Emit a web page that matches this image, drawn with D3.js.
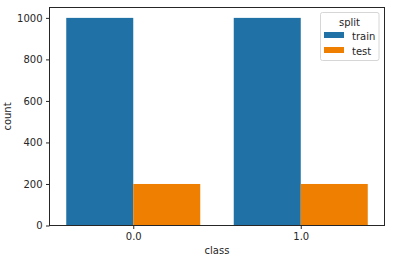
<!DOCTYPE html>
<html><head><meta charset="utf-8">
<script src="https://cdn.jsdelivr.net/npm/d3@7"></script>
<style>body{margin:0;background:#fff}svg{display:block}text{font-family:"DejaVu Sans",sans-serif;fill:#262626}</style>
</head><body><svg id="c" width="393" height="261"></svg>
<script>
const classes = ["0.0", "1.0"];
const splits = ["train", "test"];
const trainValues = [1000, 1000];
const testValues = [200, 200];
const yTicks = [0, 200, 400, 600, 800, 1000];
const colors = ["#1f71a6", "#ee7f00"];

const svg = d3.select("#c");
const m = {l: 49.5, r: 384.5, t: 7.5, b: 225.5};
const x = d3.scaleBand().domain(classes).range([m.l, m.r]).paddingInner(0.2).paddingOuter(0.1);
const xs = d3.scaleBand().domain(splits).range([0, x.bandwidth()]);
const y = d3.scaleLinear().domain([0, 1050]).range([m.b, m.t]);

const data = classes.map((c, i) => ({c, vals: [trainValues[i], testValues[i]]}));
svg.append("g").selectAll("g").data(data).join("g")
  .attr("transform", d => `translate(${x(d.c)},0)`)
  .selectAll("rect").data(d => d.vals.map((v, j) => ({v, s: splits[j], j})))
  .join("rect")
  .attr("x", d => xs(d.s)).attr("width", xs.bandwidth())
  .attr("y", d => y(d.v)).attr("height", d => y(0) - y(d.v))
  .attr("fill", d => colors[d.j]);

// axes
const xc = d3.scalePoint().domain(classes).range([m.l, m.r]).padding(0.5);
const gx = svg.append("g").attr("transform", `translate(0,${m.b})`)
  .call(d3.axisBottom(xc).tickSize(3.5).tickPadding(3.5));
const gy = svg.append("g").attr("transform", `translate(${m.l},0)`)
  .call(d3.axisLeft(y).tickValues(yTicks).tickFormat(d3.format("d")).tickSize(3.5).tickPadding(3.5));
[gx, gy].forEach(g => {
  g.select(".domain").remove();
  g.selectAll("line").attr("stroke", "#262626").attr("stroke-width", 1);
  g.selectAll("text").attr("font-size", 10).attr("font-family", "DejaVu Sans").attr("fill", "#262626");
});
// spines
svg.append("rect").attr("x", m.l).attr("y", m.t).attr("width", m.r - m.l).attr("height", m.b - m.t)
  .attr("fill", "none").attr("stroke", "#262626").attr("stroke-width", 1);

svg.append("text").attr("x", (m.l + m.r) / 2).attr("y", 254).attr("text-anchor", "middle")
  .attr("font-size", 10).text("class");
svg.append("text").attr("transform", `translate(11,${(m.t + m.b) / 2}) rotate(-90)`)
  .attr("text-anchor", "middle").attr("font-size", 10).text("count");

// legend
const lg = svg.append("g");
lg.append("rect").attr("x", 320.5).attr("y", 12.5).attr("width", 58.5).attr("height", 48).attr("rx", 2)
  .attr("fill", "#fff").attr("fill-opacity", 0.8).attr("stroke", "#d6d6d6").attr("stroke-width", 1);
lg.append("text").attr("x", 349.5).attr("y", 26).attr("text-anchor", "middle").attr("font-size", 10).text("split");
splits.forEach((s, i) => {
  lg.append("rect").attr("x", 324).attr("y", 32 + i * 15).attr("width", 20).attr("height", 6).attr("fill", colors[i]);
  lg.append("text").attr("x", 352).attr("y", 39.5 + i * 15).attr("font-size", 10).text(s);
});
</script></body></html>
